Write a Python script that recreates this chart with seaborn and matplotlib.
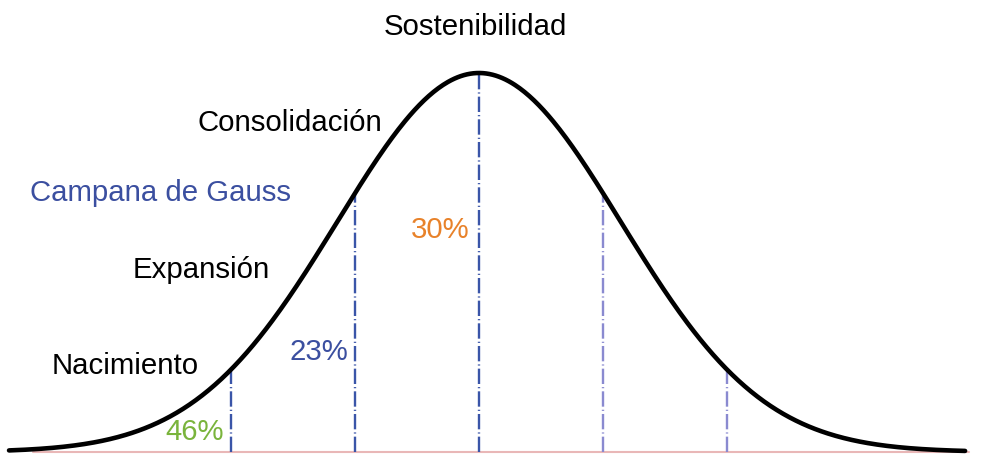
import numpy as np
import pandas as pd
import matplotlib
matplotlib.use("Agg")
import matplotlib.pyplot as plt
import seaborn as sns

# ---- data ----
stage_names = ["Nacimiento", "Expansión", "Consolidación", "Sostenibilidad"]
percent_labels = ["46%", "23%", "30%"]
percent_colors = ["#7ab43c", "#3b4fa0", "#e8822a"]
divider_pos = [-2, -1, 0, 1, 2]          # in units of divider spacing
sigma = 1.145                              # curve width in the same units
title_text = "Campana de Gauss"

sns.set_theme(style="white")
plt.rcParams["font.family"] = ["Liberation Sans", "DejaVu Sans"]

W, H = 981, 454
fig = plt.figure(figsize=(W / 100, H / 100), dpi=100)
ax = fig.add_axes([0, 0, 1, 1])

px = 124.0
cx = 479.0
base_px = 452.0
peak_px = 73.0
hpx = base_px - peak_px
ax.set_xlim(-cx / px, (W - cx) / px)
ax.set_ylim(-(H - base_px) / hpx, base_px / hpx)
ax.axis("off")

def gauss(x):
    return np.exp(-0.5 * (np.asarray(x) / sigma) ** 2)

xs = np.linspace(-3.79, 3.92, 600)
df = pd.DataFrame({"x": xs, "y": gauss(xs)})

# baseline
ax.plot([-3.6, 3.95], [0, 0], color="#e9b7b7", lw=1.5, zorder=1)

# dividers
div_colors = ["#3a55a8", "#3a55a8", "#3a55a8", "#8a8ad0", "#8a8ad0"]
for p, c in zip(divider_pos, div_colors):
    ax.plot([p, p], [0, float(gauss(p))], color=c, lw=1.7,
            linestyle=(0, (6.5, 1.3, 0.5, 1.3)), zorder=2)

sns.lineplot(data=df, x="x", y="y", ax=ax, color="black", lw=3.3, zorder=3)

def dx(xp):
    return (xp - cx) / px

def dy(yp):
    return (base_px - yp) / hpx

fs = 21.2
# stage labels
stage_xy = [(52, 366, "left"), (133, 270, "left"), (198, 123, "left"), (475, 27, "center")]
for name, (xp, yp, ha) in zip(stage_names, stage_xy):
    ax.text(dx(xp), dy(yp), name, ha=ha, va="center", fontsize=fs, color="black")

ax.text(dx(30), dy(193), title_text, ha="left", va="center", fontsize=fs, color="#3b4fa0")

pct_xy = [(224, 432, "right"), (348, 352, "right"), (469, 230, "right")]
for lab, col, (xp, yp, ha) in zip(percent_labels, percent_colors, pct_xy):
    ax.text(dx(xp), dy(yp), lab, ha=ha, va="center", fontsize=fs, color=col)

fig.savefig("out.png", dpi=100, facecolor="white")
